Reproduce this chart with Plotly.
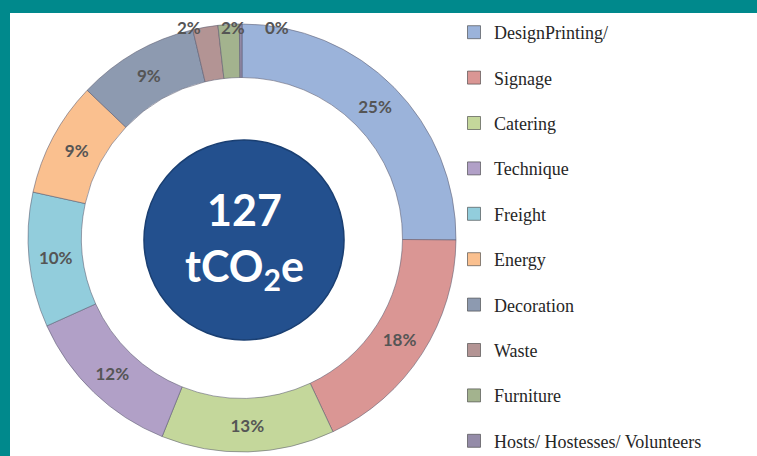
import numpy as np
import plotly.graph_objects as go

# ---- data ----
labels = ["DesignPrinting/", "Signage", "Catering", "Technique", "Freight",
          "Energy", "Decoration", "Waste", "Furniture",
          "Hosts/ Hostesses/ Volunteers"]
values = [25.2, 17.9, 13.1, 12.2, 10.2, 8.7, 9.2, 1.9, 1.6, 0.2]
total_value = 127
total_unit = "tCO<sub>2</sub>e"

# ---- styles ----
slice_colors = ["#9BB3DA", "#DA9694", "#C4D79B", "#B1A0C7", "#92CDDC",
                "#FAC08F", "#8D9AB0", "#B39494", "#A3B38E", "#948BA8"]
small_slices = ["Waste", "Furniture", "Hosts/ Hostesses/ Volunteers"]
W, H = 757, 456
TEAL = "#00898C"
label_font = dict(family="Lato", size=17, color="#555555", weight="bold")


def px_x(x):
    return x / W


def px_y(y):
    return (H - y) / H


# ring geometry (pixels)
cx, cy, R = 242, 238, 214
icx, icy, ir = 244, 240, 100

fig = go.Figure()

fig.add_trace(go.Pie(
    labels=labels,
    values=values,
    hole=0.75,
    sort=False,
    direction="clockwise",
    rotation=0,
    marker=dict(colors=slice_colors,
                line=dict(color="rgba(90,90,110,0.55)", width=1)),
    texttemplate=["" if l in small_slices else "%{percent:.0%}" for l in labels],
    textposition="inside",
    insidetextorientation="horizontal",
    textfont=label_font,
    domain=dict(x=[px_x(cx - R), px_x(cx + R)], y=[px_y(cy + R), px_y(cy - R)]),
    showlegend=False,
    hoverinfo="label+percent",
))

fig.add_trace(go.Pie(
    labels=["Total"],
    values=[total_value],
    hole=0,
    sort=False,
    marker=dict(colors=["#23508E"], line=dict(color="#1A3F72", width=1.5)),
    textinfo="none",
    domain=dict(x=[px_x(icx - ir), px_x(icx + ir)], y=[px_y(icy + ir), px_y(icy - ir)]),
    showlegend=False,
    hoverinfo="skip",
))

# labels for the thin slices at the top, from the slice angles,
# spread horizontally so they do not collide
vals = np.array(values, dtype=float)
cum = np.cumsum(vals) / vals.sum()
mid = (cum - vals / vals.sum() / 2) * 2 * np.pi
idx = [labels.index(s) for s in small_slices]
xs = np.array([cx + R * np.sin(mid[i]) for i in idx])
order = np.argsort(xs)
gap = 44
base = xs[order].mean() - gap * (len(idx) - 1) / 2
spread = np.empty_like(xs)
spread[order] = base + gap * np.arange(len(idx))
for k, i in enumerate(idx):
    fig.add_annotation(
        x=px_x(spread[k] + 8), y=px_y(cy - R + 4), xref="paper", yref="paper",
        text=f"{vals[i] / vals.sum():.0%}", showarrow=False,
        font=label_font, xanchor="center", yanchor="middle",
    )

# legend proxies
for i, (lab, col) in enumerate(zip(labels, slice_colors)):
    fig.add_trace(go.Scatter(
        x=[None], y=[None], mode="markers", name=lab,
        legendgroup=f"g{i}",
        marker=dict(symbol="square", size=13, color=col,
                    line=dict(color="rgba(60,60,60,0.6)", width=1)),
        hoverinfo="skip",
    ))

fig.add_annotation(
    x=px_x(icx), y=px_y(icy), xref="paper", yref="paper",
    text=f"{total_value}<br>{total_unit}", showarrow=False,
    font=dict(family="Lato", size=43, color="white", weight="bold"),
    align="center", xanchor="center", yanchor="middle",
)

# teal frame
fig.add_shape(type="rect", xref="paper", yref="paper", x0=0, x1=1,
              y0=px_y(13), y1=1, fillcolor=TEAL, line_width=0, layer="above")
fig.add_shape(type="rect", xref="paper", yref="paper", x0=0, x1=px_x(10),
              y0=0, y1=1, fillcolor=TEAL, line_width=0, layer="above")

fig.update_layout(
    width=W, height=H,
    margin=dict(l=0, r=0, t=0, b=0, autoexpand=False),
    paper_bgcolor="white",
    plot_bgcolor="rgba(0,0,0,0)",
    xaxis=dict(visible=False, range=[0, 1]),
    yaxis=dict(visible=False, range=[0, 1]),
    legend=dict(x=px_x(454), xanchor="left", y=px_y(14), yanchor="top",
                font=dict(family="Liberation Serif", size=18, color="#262626"),
                tracegroupgap=19, bgcolor="rgba(0,0,0,0)",
                itemclick=False, itemdoubleclick=False),
)

fig.write_html(
    "out.html",
    config={"displayModeBar": False},
    post_script="document.body.style.margin='0';document.body.style.overflow='hidden';",
)
